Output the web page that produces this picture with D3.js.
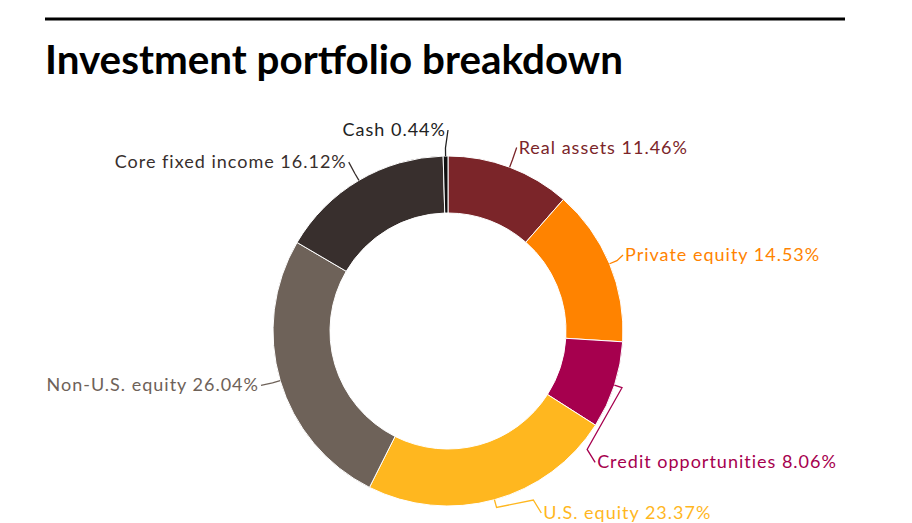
<!DOCTYPE html>
<head>
  <meta charset="utf-8">
  <script src="https://d3js.org/d3.v7.min.js"></script>
  <style>
    body { margin: 0; background: #fff; }
    svg { width: 912px; height: 523px; display: block; }
    text { font-family: Lato, "Open Sans", sans-serif; }
  </style>
</head>

<body>
  <svg></svg>

  <script>
    // chart data
    const categories = ['Real assets', 'Private equity', 'Credit opportunities', 'U.S. equity',
      'Non-U.S. equity', 'Core fixed income', 'Cash'];
    const shares = [11.46, 14.53, 8.06, 23.37, 26.04, 16.12, 0.44];
    const shareLabels = ['11.46%', '14.53%', '8.06%', '23.37%', '26.04%', '16.12%', '0.44%'];

    // styling / layout
    const colors = ['#7b2529', '#ff8300', '#a6004e', '#ffb71f', '#6e6259', '#382f2d', '#111111'];
    const labelColors = ['#7b2529', '#ff8300', '#a6004e', '#ffb71f', '#6e6259', '#382f2d', '#222222'];
    // manual nudges [dx, dy] for labels that were pushed around in the original
    const labelNudge = [[0, 0], [-5, 0], [4, 72], [26, -5], [0, 0], [0, 0], [0, -5]];

    const width = 912;
    const height = 523;
    const cx = 448, cy = 331;
    const outerR = 175, innerR = 118;
    const labelDist = 20;

    const svg = d3.select('svg')
      .attr('viewBox', `0 0 ${width} ${height}`);

    // top rule + title
    svg.append('line')
      .attr('x1', 45).attr('x2', 845)
      .attr('y1', 19).attr('y2', 19)
      .attr('stroke', '#000')
      .attr('stroke-width', 3);

    svg.append('text')
      .attr('x', 45)
      .attr('y', 74)
      .style('font-family', 'Lato, sans-serif')
      .attr('font-size', 40)
      .attr('font-weight', 700)
      .attr('textLength', 578)
      .attr('lengthAdjust', 'spacingAndGlyphs')
      .attr('fill', '#000')
      .text('Investment portfolio breakdown');

    const pie = d3.pie().sort(null).value(d => d);
    const arcs = pie(shares);

    const arc = d3.arc().innerRadius(innerR).outerRadius(outerR);

    const g = svg.append('g')
      .attr('transform', `translate(${cx},${cy})`);

    g.selectAll('path.slice')
      .data(arcs)
      .enter().append('path')
      .attr('class', 'slice')
      .attr('d', arc)
      .attr('fill', (d, i) => colors[i])
      .attr('stroke', '#fff')
      .attr('stroke-width', 1);

    // polar helper, angle 0 at 12 o'clock, clockwise
    const polar = (a, r) => [Math.sin(a) * r, -Math.cos(a) * r];

    const labelData = arcs.map((d, i) => {
      const mid = (d.startAngle + d.endAngle) / 2;
      const right = mid < Math.PI;
      const side = right ? 1 : -1;
      const rr = outerR + labelDist;
      // x follows the label circle at the natural height
      const natY = -Math.cos(mid) * rr + labelNudge[i][1];
      const cy0 = Math.max(-rr, Math.min(rr, natY));
      const x = side * Math.sqrt(rr * rr - cy0 * cy0) + labelNudge[i][0];
      const y = natY - 4;
      const touching = polar(mid, outerR);
      const breakAt = polar(mid, outerR + 8);
      const labelPt = [x, y + 3];
      const pts = [touching, breakAt];
      if (labelNudge[i][1] > 20 || labelNudge[i][0] > 10) {
        pts.push([x - side * 8, y - 10]);
      }
      pts.push(labelPt);
      return { i, x, y, side, pts };
    });

    // connectors
    g.selectAll('path.connector')
      .data(labelData)
      .enter().append('path')
      .attr('class', 'connector')
      .attr('d', d => d3.line()(d.pts))
      .attr('fill', 'none')
      .attr('stroke', d => labelColors[d.i])
      .attr('stroke-width', 1.3);

    // labels
    g.selectAll('text.label')
      .data(labelData)
      .enter().append('text')
      .attr('class', 'label')
      .attr('x', d => d.x + d.side * 2)
      .attr('y', d => d.y + 9)
      .attr('text-anchor', d => d.side > 0 ? 'start' : 'end')
      .attr('font-size', 18)
      .attr('letter-spacing', 1)
      .attr('fill', d => labelColors[d.i])
      .text(d => `${categories[d.i]} ${shareLabels[d.i]}`);
  </script>
</body>
